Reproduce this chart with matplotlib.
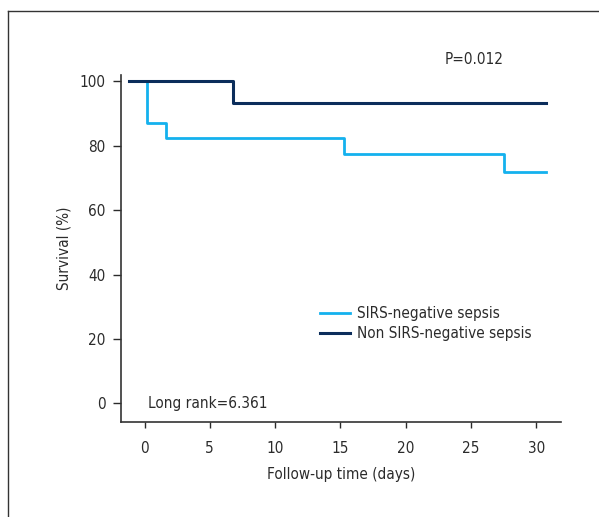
import matplotlib.pyplot as plt
from matplotlib.lines import Line2D

plt.rcParams['font.family'] = ['DejaVu Sans']
plt.rcParams['font.stretch'] = 'condensed'

# Kaplan-Meier step data (time in days, survival in %)
sirs_neg_time = [-1.2, 0.18, 1.66, 15.3, 27.5, 30.75]
sirs_neg_surv = [100, 87.2, 82.4, 77.6, 71.8, 71.8]
non_sirs_time = [-1.2, 6.8, 30.75]
non_sirs_surv = [100, 93.3, 93.3]

x_ticks = [0, 5, 10, 15, 20, 25, 30]
y_ticks = [0, 20, 40, 60, 80, 100]

light_blue = '#14b1ee'
dark_blue = '#0b2d5b'
text_col = '#2b2b2b'

fig = plt.figure(figsize=(5.99, 5.17), dpi=100)
ax = fig.add_axes([0.2020, 0.1838, 0.7346, 0.6712])

ax.step(sirs_neg_time, sirs_neg_surv, where='post', color=light_blue, lw=2.0,
        label='SIRS-negative sepsis')
ax.step(non_sirs_time, non_sirs_surv, where='post', color=dark_blue, lw=2.2,
        label='Non SIRS-negative sepsis')

ax.set_xlim(-1.8, 31.9)
ax.set_ylim(-5.75, 102)
ax.set_xticks(x_ticks)
ax.set_yticks(y_ticks)
ax.tick_params(direction='out', width=1, colors=text_col, labelsize=11)
ax.tick_params(axis='x', length=4.5, pad=9)
ax.tick_params(axis='y', length=6, pad=5)
for side in ['top', 'right']:
    ax.spines[side].set_visible(False)
for side in ['left', 'bottom']:
    ax.spines[side].set_color('#333333')
    ax.spines[side].set_linewidth(1.2)

ax.set_xlabel('Follow-up time (days)', fontsize=11, color=text_col, labelpad=8)
ax.set_ylabel('Survival (%)', fontsize=11, color=text_col, labelpad=6)

ax.text(0.28, 0, 'Long rank=6.361', fontsize=11, color=text_col,
        ha='left', va='center')
fig.text(0.791, 0.884, 'P=0.012', fontsize=11, color=text_col,
         ha='center', va='center')

ax.legend(loc='upper left', bbox_to_anchor=(0.452, 0.333), frameon=False,
          fontsize=11, handlelength=2.0, handletextpad=0.4,
          labelspacing=0.3, borderaxespad=0, borderpad=0,
          labelcolor=text_col)

# partial frame around the panel
fig.add_artist(Line2D([8 / 599, 8 / 599], [0, 1 - 11 / 517],
                      transform=fig.transFigure, color='#333333', lw=1.0))
fig.add_artist(Line2D([8 / 599, 1], [1 - 11 / 517, 1 - 11 / 517],
                      transform=fig.transFigure, color='#333333', lw=1.0))

fig.savefig('out.png', dpi=100)
